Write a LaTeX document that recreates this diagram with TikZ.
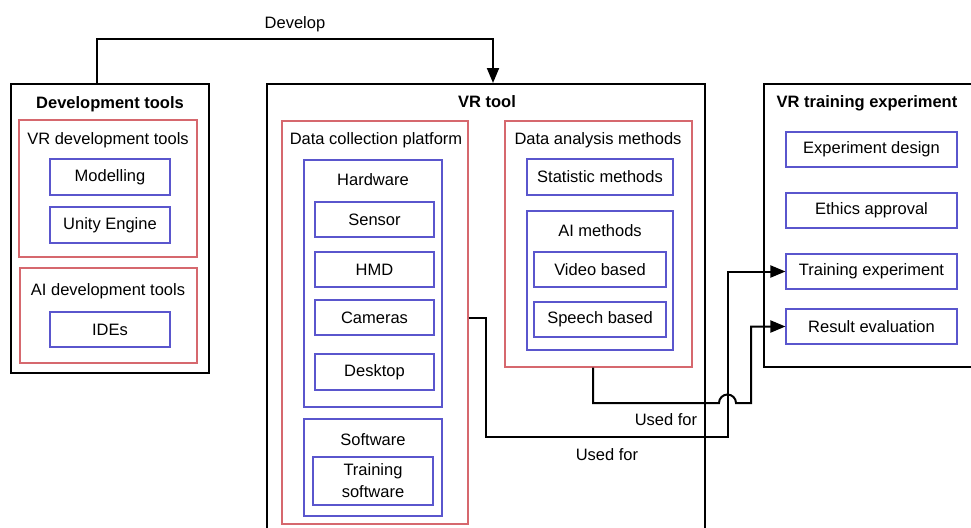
\documentclass[tikz,border=0pt]{standalone}
\usepackage{fontspec}
\setmainfont{Liberation Sans}
\usetikzlibrary{arrows.meta}
\definecolor{redframe}{RGB}{214,104,110}
\definecolor{blueframe}{RGB}{90,86,205}
\tikzset{
  txt/.style={font=\fontsize{16.5}{19}\selectfont, inner sep=0pt},
  ttl/.style={font=\fontsize{16.5}{19}\selectfont\bfseries, inner sep=0pt},
  outerbox/.style={draw=black, line width=2pt, rectangle, inner sep=0pt},
  redbox/.style={draw=redframe, line width=1.1pt, rectangle, inner sep=0pt},
  bluebox/.style={draw=blueframe, line width=1.1pt, rectangle, inner sep=0pt,
    font=\fontsize{16.5}{22}\selectfont, align=center},
  conn/.style={draw=black, line width=2pt, line join=miter},
  arr/.style={conn, -{Triangle[length=15pt,width=12pt]}},
}
% box from corner (x1,y1) to (x2,y2) in pixel units
\newcommand{\frameat}[6]{%
  \node[#1, minimum width={(#5)-(#3)}, minimum height={(#6)-(#4)}] (#2)
    at ({((#3)+(#5))/2},{((#4)+(#6))/2}) {};}
\newcommand{\itemat}[7]{%
  \node[bluebox, minimum width={(#5)-(#3)}, minimum height={(#6)-(#4)}] (#1)
    at ({((#3)+(#5))/2},{((#4)+(#6))/2}) {#7};}
\begin{document}
\begin{tikzpicture}[x=1pt,y=-1pt]
\useasboundingbox (0,0) rectangle (971,527);
\fill[white] (0,0) rectangle (971,527);

% ---------- Development tools ----------
\frameat{outerbox}{dev}{11}{84}{209}{373}
\node[ttl] (devt) at (110,104) {Development tools};
\frameat{redbox}{vrdev}{19}{120}{197}{257}
\node[txt] (vrdevt) at (108,140) {VR development tools};
\itemat{model}{}{50}{159}{170}{195}{Modelling}
\itemat{unity}{}{50}{207}{170}{243}{Unity Engine}
\frameat{redbox}{aidev}{20}{268}{197}{363}
\node[txt] (aidevt) at (108,291) {AI development tools};
\itemat{ides}{}{50}{312}{170}{347}{IDEs}

% ---------- VR tool ----------
\frameat{outerbox}{vrtool}{267}{84}{705}{560}
\node[ttl] (vrtoolt) at (487,102) {VR tool};

\frameat{redbox}{dcp}{282}{121}{468}{524}
\node[txt] (dcpt) at (376,140) {Data collection platform};
\frameat{bluebox}{hw}{304}{160}{442}{407}
\node[txt] (hwt) at (373,180) {Hardware};
\itemat{sensor}{}{315}{202}{434}{237}{Sensor}
\itemat{hmd}{}{315}{252}{434}{287}{HMD}
\itemat{cam}{}{315}{300}{434}{335}{Cameras}
\itemat{desk}{}{315}{354}{434}{390}{Desktop}
\frameat{bluebox}{sw}{304}{419}{442}{516}
\node[txt] (swt) at (373,440) {Software};
\itemat{tsw}{}{313}{457}{433}{505}{Training\\software}

\frameat{redbox}{dam}{505}{121}{692}{367}
\node[txt] (damt) at (598,140) {Data analysis methods};
\itemat{stat}{}{527}{159}{673}{195}{Statistic methods}
\frameat{bluebox}{aim}{527}{211}{673}{350}
\node[txt] (aimt) at (600,231) {AI methods};
\itemat{video}{}{534}{252}{666}{287}{Video based}
\itemat{speech}{}{534}{302}{666}{337}{Speech based}

% ---------- VR training experiment ----------
\frameat{outerbox}{vrexp}{764}{84}{975}{367}
\node[ttl] (vrexpt) at (867,103) {VR training experiment};
\itemat{design}{}{786}{132}{957}{167}{Experiment design}
\itemat{ethics}{}{786}{193}{957}{228}{Ethics approval}
\itemat{texp}{}{786}{254}{957}{289}{Training experiment}
\itemat{reval}{}{786}{309}{957}{344}{Result evaluation}

% ---------- Connectors ----------
\draw[arr] ([xshift=-13pt]dev.north) |- (493,39) -- (vrtool.north -| 493,0);
\node[txt] (devlbl) at (295,24) {Develop};

\draw[arr] (cam.east -| dcp.east) -| (486,437) -- (727.5,437) |- (texp.west);
\draw[arr] ([xshift=-5.5pt]dam.south) |- (719,403)
  arc[start angle=180, end angle=360, radius=8.5] -- (751,403) |- (reval.west);
\node[txt] (used1) at (666,420) {Used for};
\node[txt] (used2) at (607,455) {Used for};
\end{tikzpicture}
\end{document}
